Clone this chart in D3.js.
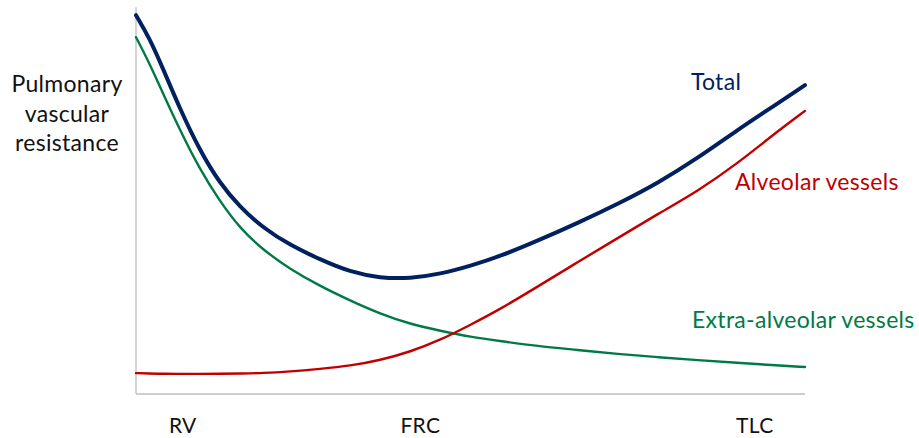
<!DOCTYPE html>
<html><head><meta charset="utf-8">
<script src="https://cdn.jsdelivr.net/npm/d3@7"></script>
<style>html,body{margin:0;padding:0;background:#fff;}svg{display:block;font-family:Lato,"Open Sans",sans-serif;}</style>
</head><body><svg id="c" width="919" height="438"></svg>
<script>
// Lung volume (% from RV to TLC)
const volume = [0,2,4,6.5,9.5,12.5,15.5,19,23,27.5,32,36.5,41,45.5,50,54.5,60,66,72,78,84,90,95,100];
const total = [99.7,93.7,85.8,75.3,64.2,55.5,49.3,43.7,39.2,35.4,32.1,30.5,30.4,31.6,33.7,36.3,40.3,45.0,50.0,55.5,62.1,69.6,75.4,81.3];
const alveolar = [5.5,5.4,5.3,5.3,5.3,5.3,5.4,5.5,5.9,6.6,7.4,8.9,11.1,14.2,18.2,22.4,28.2,34.7,41.0,47.4,53.4,60.8,67.9,74.5];
const extraAlveolar = [93.9,87.1,79.2,69.7,59.2,50.8,43.7,37.9,32.9,28.4,24.6,21.1,18.4,16.6,15.0,13.9,12.6,11.6,10.5,9.7,8.9,8.2,7.6,7.1];
const tickLabels = ["RV","FRC","TLC"];
const tickVolumes = [7,42.5,92.5];
const yLabel = ["Pulmonary","vascular","resistance"];

const svg = d3.select("#c");
const x = d3.scaleLinear().domain([0,100]).range([136,805]);
const y = d3.scaleLinear().domain([0,100]).range([394,14]);

// axes
svg.append("line").attr("x1",x(0)).attr("x2",x(0)).attr("y1",7).attr("y2",y(0)).attr("stroke","#bfbfbf").attr("stroke-width",1.3);
svg.append("line").attr("x1",x(0)).attr("x2",x(100)).attr("y1",y(0)).attr("y2",y(0)).attr("stroke","#bfbfbf").attr("stroke-width",1.3);

const line = d3.line().x(d=>x(d[0])).y(d=>y(d[1])).curve(d3.curveBasis);
const series = [
  {vals: extraAlveolar, color:"#007a45", w:2.4},
  {vals: alveolar, color:"#c00000", w:2.4},
  {vals: total, color:"#002060", w:4}
];
series.forEach(s=>{
  svg.append("path").datum(volume.map((v,i)=>[v,s.vals[i]])).attr("d",line)
    .attr("fill","none").attr("stroke",s.color).attr("stroke-width",s.w).attr("stroke-linecap","round");
});

const fs = 23, ls = 0.3;
// x tick labels
svg.selectAll("text.xt").data(tickLabels).enter().append("text").attr("class","xt")
  .attr("x",(d,i)=>x(tickVolumes[i])).attr("y",433).attr("text-anchor","middle")
  .attr("font-size",21).attr("letter-spacing",ls).attr("fill","#111").text(d=>d);

// y label
svg.selectAll("text.yl").data(yLabel).enter().append("text").attr("class","yl")
  .attr("x",67).attr("y",(d,i)=>92+i*29.5).attr("text-anchor","middle")
  .attr("font-size",fs).attr("letter-spacing",ls).attr("fill","#111").text(d=>d);

// series labels
svg.append("text").attr("x",716).attr("y",90).attr("text-anchor","middle").attr("font-size",fs).attr("letter-spacing",ls).attr("fill","#002060").text("Total");
svg.append("text").attr("x",735).attr("y",190).attr("font-size",fs).attr("letter-spacing",ls).attr("fill","#c00000").text("Alveolar vessels");
svg.append("text").attr("x",692).attr("y",328).attr("font-size",fs).attr("letter-spacing",ls).attr("fill","#007a45").text("Extra-alveolar vessels");
</script></body></html>
